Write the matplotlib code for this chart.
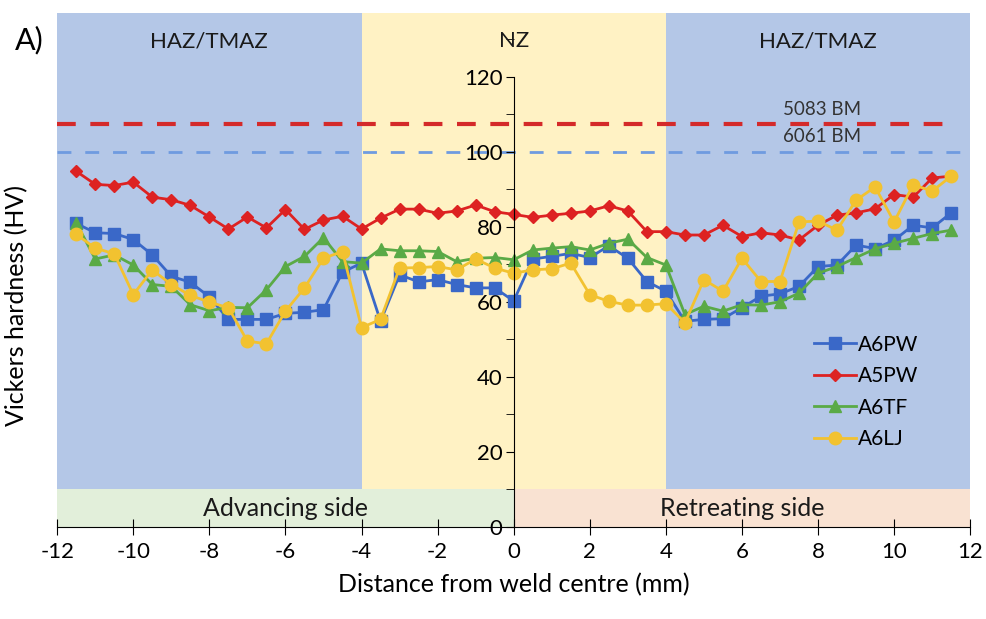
import matplotlib
matplotlib.use('Agg')
import matplotlib.pyplot as plt
from matplotlib.ticker import MultipleLocator

plt.rcParams['font.family'] = ['Lato', 'DejaVu Sans']
plt.rcParams['axes.unicode_minus'] = False

# distance from weld centre (mm)
x = [-11.5, -11.0, -10.5, -10.0, -9.5, -9.0, -8.5, -8.0, -7.5, -7.0, -6.5, -6.0,
     -5.5, -5.0, -4.5, -4.0, -3.5, -3.0, -2.5, -2.0, -1.5, -1.0, -0.5, 0.0,
     0.5, 1.0, 1.5, 2.0, 2.5, 3.0, 3.5, 4.0, 4.5, 5.0, 5.5, 6.0,
     6.5, 7.0, 7.5, 8.0, 8.5, 9.0, 9.5, 10.0, 10.5, 11.0, 11.5]

a6pw = [80.9, 78.4, 78.2, 76.6, 72.5, 66.8, 65.2, 61.3, 55.3, 55.3, 55.3, 56.9,
        57.2, 57.9, 67.9, 70.3, 54.8, 67.2, 65.3, 65.9, 64.6, 63.7, 63.7, 60.2,
        71.4, 72.1, 72.9, 71.8, 74.9, 71.6, 65.4, 62.8, 54.8, 55.3, 55.5, 58.4,
        61.5, 62.1, 64.1, 69.4, 69.8, 75.1, 74.2, 76.4, 80.4, 79.7, 83.7]
a5pw = [94.8, 91.3, 91.0, 91.9, 87.9, 87.2, 85.7, 82.6, 79.4, 82.6, 79.7, 84.6,
        79.3, 81.8, 82.8, 79.4, 82.3, 84.7, 84.7, 83.6, 84.2, 85.8, 84.0, 83.3,
        82.5, 83.1, 83.6, 84.2, 85.6, 84.2, 78.7, 78.7, 77.8, 77.8, 80.4, 77.4,
        78.4, 77.8, 76.5, 80.4, 83.1, 83.7, 84.8, 88.6, 87.9, 93.0, 93.5]
a6tf = [81.1, 71.4, 72.5, 69.8, 64.6, 64.1, 59.2, 57.6, 58.5, 58.4, 63.2, 69.4,
        72.1, 77.1, 70.7, 70.3, 74.1, 73.6, 73.6, 73.4, 70.7, 71.6, 71.8, 71.2,
        73.8, 74.3, 74.7, 73.8, 75.6, 76.7, 71.8, 69.8, 56.6, 58.8, 57.5, 59.2,
        59.1, 60.0, 62.3, 67.6, 69.4, 71.8, 74.1, 75.6, 76.9, 78.2, 79.1]
a6lj = [78.0, 74.3, 72.8, 61.9, 68.5, 64.6, 61.7, 59.9, 58.4, 49.5, 48.8, 57.5,
        63.7, 71.6, 73.4, 53.1, 55.3, 69.0, 69.1, 69.4, 68.5, 71.4, 69.0, 67.6,
        68.5, 68.8, 70.3, 61.9, 60.1, 59.1, 59.1, 59.5, 54.4, 65.9, 62.8, 71.6,
        65.4, 65.4, 81.3, 81.5, 79.1, 87.1, 90.6, 81.3, 91.2, 89.5, 93.5]

bm_5083 = 107.3
bm_6061 = 100.0

fig = plt.figure(figsize=(9.86, 6.19), dpi=100)
ax = fig.add_axes([0.058, 0.149, 0.926, 0.83])
ax.set_xlim(-12, 12)
ax.set_ylim(0, 137)

# zone backgrounds
ax.axvspan(-12, -4, ymin=10 / 137, ymax=1, color='#b4c7e7', lw=0, zorder=0)
ax.axvspan(-4, 4, ymin=10 / 137, ymax=1, color='#fff2c4', lw=0, zorder=0)
ax.axvspan(4, 12, ymin=10 / 137, ymax=1, color='#b4c7e7', lw=0, zorder=0)
ax.axvspan(-12, 0, ymin=0, ymax=10 / 137, color='#e2efda', lw=0, zorder=0)
ax.axvspan(0, 12, ymin=0, ymax=10 / 137, color='#f9e2d2', lw=0, zorder=0)

# base metal references
ax.plot([-12, 11.3], [bm_5083, bm_5083], color='#d42a2a', lw=3, dashes=(4.5, 3.5), zorder=1)
ax.plot([-12, 12], [bm_6061, bm_6061], color='#6f9be0', lw=2, dashes=(5, 5), zorder=1)
ax.text(8.1, bm_5083 + 4, '5083 BM', fontsize=13.5, ha='center', va='center', color='#333333')
ax.text(8.1, bm_6061 + 4, '6061 BM', fontsize=13.5, ha='center', va='center', color='#333333')

ax.plot(x, a6pw, color='#3a68c8', marker='s', ms=8.5, lw=2, label='A6PW', zorder=3)
ax.plot(x, a5pw, color='#dd2222', marker='D', ms=6.5, lw=2, label='A5PW', zorder=3)
ax.plot(x, a6tf, color='#5aaa46', marker='^', ms=8, lw=2, label='A6TF', zorder=3)
ax.plot(x, a6lj, color='#f2c230', marker='o', ms=9, lw=2, label='A6LJ', zorder=3)

# axes: y spine at x=0, x spine at y=0
for s in ['top', 'right']:
    ax.spines[s].set_visible(False)
ax.spines['left'].set_position(('data', 0))
ax.spines['left'].set_bounds(0, 120)
ax.spines['bottom'].set_position(('data', 0))
ax.spines['left'].set_zorder(4)
ax.spines['bottom'].set_zorder(4)

ax.set_yticks(range(0, 121, 20))
ax.yaxis.set_minor_locator(MultipleLocator(10))
ax.tick_params(axis='y', which='both', direction='out', length=6, labelsize=16, pad=2)
ax.set_xticks(range(-12, 13, 2))
ax.tick_params(axis='x', direction='inout', length=12, labelsize=16, pad=5)
ax.yaxis.set_minor_formatter(plt.NullFormatter())
ax.set_ylim(0, 137)

ax.set_xlabel('Distance from weld centre (mm)', fontsize=18, labelpad=8)
ax.set_ylabel('Vickers hardness (HV)', fontsize=18)
ax.yaxis.set_label_coords(-0.032, 0.43)

ax.text(-8, 129.5, 'HAZ/TMAZ', fontsize=16, ha='center', va='center', color='#1a1a1a')
ax.text(0, 129.5, 'NZ', fontsize=16, ha='center', va='center', color='#1a1a1a')
ax.text(8, 129.5, 'HAZ/TMAZ', fontsize=16, ha='center', va='center', color='#1a1a1a')
ax.text(-6, 5, 'Advancing side', fontsize=18, ha='center', va='center', color='#1a1a1a')
ax.text(6, 5, 'Retreating side', fontsize=18, ha='center', va='center', color='#1a1a1a')

fig.text(0.03, 0.935, 'A)', fontsize=22, ha='center', va='center')

ax.legend(loc='upper left', bbox_to_anchor=(0.82, 0.39), frameon=False, fontsize=15,
          handlelength=2.0, handletextpad=0.1, labelspacing=0.55, borderaxespad=0)

fig.savefig('out.png', dpi=100)
